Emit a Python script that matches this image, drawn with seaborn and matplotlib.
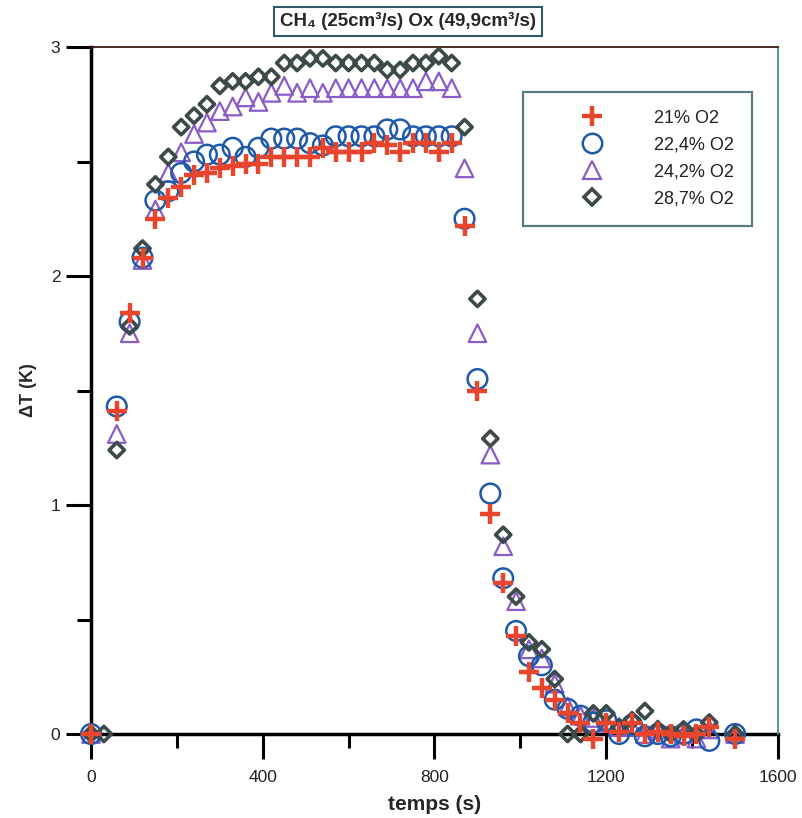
import matplotlib
matplotlib.use("Agg")
import matplotlib.pyplot as plt
import seaborn as sns
import pandas as pd
from matplotlib.lines import Line2D
from matplotlib import font_manager as fm
from matplotlib.ticker import MultipleLocator

# ---------------- data ----------------
grid = list(range(60, 1441, 30))

t_21 = [0] + grid + [1500]
v_21 = [0.00,
        1.41, 1.84, 2.08, 2.25, 2.34, 2.39, 2.44, 2.45, 2.47, 2.48, 2.49, 2.49, 2.52, 2.52, 2.52,
        2.52, 2.56, 2.54, 2.54, 2.54, 2.58, 2.57, 2.54, 2.58, 2.58, 2.54, 2.58,
        2.22, 1.50, 0.96, 0.66, 0.43, 0.27, 0.20, 0.15, 0.09, 0.05, -0.02, 0.05, 0.01, 0.05,
        0.00, 0.01, 0.00, -0.01, 0.00, 0.03,
        -0.02]

t_224 = [0] + grid + [1500]
v_224 = [0.00,
         1.43, 1.80, 2.08, 2.33, 2.37, 2.45, 2.50, 2.53, 2.53, 2.56, 2.52, 2.56, 2.60, 2.60, 2.60,
         2.58, 2.57, 2.61, 2.61, 2.61, 2.61, 2.64, 2.64, 2.61, 2.61, 2.61, 2.61,
         2.25, 1.55, 1.05, 0.68, 0.45, 0.34, 0.30, 0.15, 0.11, 0.08, 0.05, 0.06, 0.00, 0.04,
         -0.01, 0.00, -0.01, 0.00, 0.02, -0.03,
         0.00]

t_242 = [0] + grid + [1500]
v_242 = [0.00,
         1.31, 1.75, 2.07, 2.29, 2.45, 2.54, 2.62, 2.67, 2.72, 2.74, 2.78, 2.76, 2.80, 2.83, 2.80,
         2.82, 2.80, 2.82, 2.82, 2.82, 2.82, 2.82, 2.82, 2.82, 2.85, 2.85, 2.82,
         2.47, 1.75, 1.22, 0.82, 0.58, 0.37, 0.33, 0.22, 0.12, 0.08, 0.07, 0.05, 0.03, 0.03,
         0.00, 0.02, -0.02, 0.00, -0.02, 0.02,
         0.00]

t_287 = [0, 30] + grid + [1500]
v_287 = [0.00, 0.00,
         1.24, 1.78, 2.12, 2.40, 2.52, 2.65, 2.70, 2.75, 2.83, 2.85, 2.85, 2.87, 2.87, 2.93, 2.93,
         2.95, 2.95, 2.93, 2.93, 2.93, 2.93, 2.90, 2.90, 2.93, 2.93, 2.96, 2.93,
         2.65, 1.90, 1.29, 0.87, 0.60, 0.40, 0.37, 0.24, 0.00, 0.00, 0.09, 0.09, 0.03, 0.06,
         0.10, 0.02, 0.00, 0.02, 0.00, 0.05,
         0.00]

labels = ["21% O2", "22,4% O2", "24,2% O2", "28,7% O2"]
x_ticks = [0, 400, 800, 1200, 1600]
y_ticks = [0, 1, 2, 3]

# ---------------- style ----------------
sns.set_style("white")
names = {f.name for f in fm.fontManager.ttflist}
narrow = "Liberation Sans Narrow" if "Liberation Sans Narrow" in names else "Liberation Sans"
plt.rcParams["font.family"] = [narrow, "DejaVu Sans"]

c_red = "#e8452c"
c_blue = "#1f5aa8"
c_purple = "#8a5cc6"
c_dark = "#3c4a49"

fig = plt.figure(figsize=(8.03, 8.18), dpi=100)
ax = fig.add_axes([91 / 803, 1 - 734 / 818, 687 / 803, 687 / 818])

series = [
    (t_242, v_242, "^", c_purple, 160, 1.6, True),
    (t_224, v_224, "o", c_blue, 200, 1.8, True),
    (t_287, v_287, "D", c_dark, 60, 2.6, True),
    (t_21, v_21, "+", c_red, 210, 3.2, False),
]
for t, v, m, c, s, lw, hollow in series:
    df = pd.DataFrame({"t": t, "v": v})
    if hollow:
        sns.scatterplot(data=df, x="t", y="v", marker=m, s=s, facecolors="none",
                        edgecolor=c, linewidth=lw, ax=ax, clip_on=False, zorder=3)
    else:
        sns.scatterplot(data=df, x="t", y="v", marker=m, s=s, color=c,
                        linewidth=lw, ax=ax, clip_on=False, zorder=4)

ax.set_xlim(0, 1600)
ax.set_ylim(0, 3)
ax.set_xticks(x_ticks)
ax.set_yticks(y_ticks)
ax.xaxis.set_minor_locator(MultipleLocator(200))
ax.yaxis.set_minor_locator(MultipleLocator(0.5))
ax.tick_params(axis="both", which="major", direction="out", length=18, width=2.2,
               color="black", labelsize=12.5, labelcolor="#222222")
ax.tick_params(axis="both", which="minor", direction="out", length=10, width=2.2, color="black")
ax.tick_params(axis="y", which="both", left=True, right=False, pad=4)
ax.tick_params(axis="x", which="both", bottom=True, top=False, pad=8)

for side in ["left", "bottom"]:
    ax.spines[side].set_linewidth(2.5)
    ax.spines[side].set_color("black")
    ax.spines[side].set_zorder(2)
ax.spines["top"].set_linewidth(1.3)
ax.spines["top"].set_color("#3a1a10")
ax.spines["right"].set_linewidth(1.3)
ax.spines["right"].set_color("#4a8a96")

ax.set_xlabel("temps (s)", fontsize=15, fontweight="bold", family=["Liberation Sans", "DejaVu Sans"],
              labelpad=7)
ax.set_ylabel("ΔT (K)", fontsize=13, fontweight="bold", family=["Liberation Sans", "DejaVu Sans"])
ax.yaxis.set_label_coords(-0.079, 0.5)

fig.text(0.508, 0.974, "CH₄ (25cm³/s) Ox (49,9cm³/s)", ha="center", va="center",
         fontsize=13.5, fontweight="bold", family=[narrow, "DejaVu Sans"],
         bbox=dict(boxstyle="square,pad=0.3", fc="white", ec="#2f5a66", lw=1.5))

handles = [
    Line2D([], [], ls="none", marker="+", ms=14.5, mew=3.2, color=c_red),
    Line2D([], [], ls="none", marker="o", ms=14, mew=1.8, mfc="none", mec=c_blue),
    Line2D([], [], ls="none", marker="^", ms=12.5, mew=1.6, mfc="none", mec=c_purple),
    Line2D([], [], ls="none", marker="D", ms=8, mew=2.6, mfc="none", mec=c_dark),
]
leg = ax.legend(handles, labels, loc="upper right", bbox_to_anchor=(0.962, 0.935),
                bbox_transform=ax.transAxes, borderaxespad=0, frameon=True, fancybox=False,
                handlelength=5.6, handletextpad=0.65, borderpad=1.0,
                labelspacing=0.55, prop={"family": ["Liberation Sans", "DejaVu Sans"], "size": 13})
leg.get_frame().set_edgecolor("#2f5a66")
leg.get_frame().set_linewidth(1.6)
for txt in leg.get_texts():
    txt.set_color("#222222")

fig.savefig("out.png", dpi=100, facecolor="white")
